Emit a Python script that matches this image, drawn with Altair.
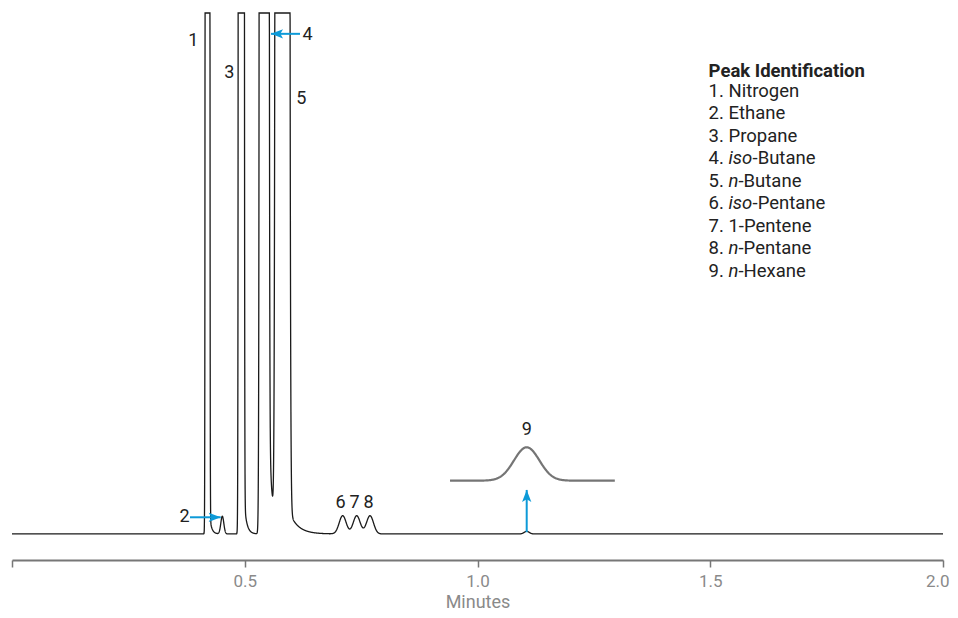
import numpy as np
import pandas as pd
import altair as alt

# ---------------- data ----------------
# peak components: retention time (min), height (detector units, 100 = top of plot), widths (min)
peak_time   = [0.4200, 0.4518, 0.4926, 0.5418, 0.5805, 0.7104, 0.7405, 0.7691, 1.1057]
peak_height = [1e5,    3.4,    1e5,    1e5,    1e5,    3.5,    3.5,    3.5,    0.5]
sigma_left  = [0.00144, 0.00322, 0.00183, 0.00296, 0.00430, 0.00752, 0.00752, 0.00752, 0.0054]
sigma_right = [0.00144, 0.00322, 0.00183, 0.00296, 0.00453, 0.00752, 0.00752, 0.00752, 0.0054]
# exponential tailing after each peak (amplitude, decay in min)
tail_height = [9.9,    0.0,    19.6,   104.0,  9.6,    0.0,    0.0,    0.0,    0.0]
tail_tau    = [0.0043, 0.001,  0.00537, 0.00644, 0.0185, 0.001, 0.001,  0.001,  0.001]
clip_level = 100.0

# magnified inset of peak 9
inset_start, inset_end = 0.941, 1.2954
inset_center, inset_base, inset_height, inset_sigma = 1.1057, 10.23, 6.41, 0.0273

# peak number labels
label_text  = ["1", "2", "3", "4", "5", "6", "7", "8", "9"]
label_time  = [0.3895, 0.3706, 0.4666, 0.6352, 0.6215, 0.7057, 0.7360, 0.7660, 1.1057]
label_value = [94.68, 3.26, 88.44, 95.87, 83.49, 5.85, 5.85, 5.85, 20.0]

# arrows: tail -> tip
arrow_t1 = [0.6187, 0.3824, 1.1057]
arrow_v1 = [96.0, 3.2, 0.33]
arrow_t2 = [0.5564, 0.4483, 1.1057]
arrow_v2 = [96.0, 3.2, 8.45]
arrow_angle = [0, 180, 90]

# peak identification list
legend_title = "Peak Identification"
legend_num = ["1.", "2.", "3.", "4.", "5.", "6.", "7.", "8.", "9."]
legend_ital = ["", "", "", "iso", "n", "iso", "", "n", "n"]
legend_name = ["Nitrogen", "Ethane", "Propane", "-Butane", "-Butane", "-Pentane", "1-Pentene", "-Pentane", "-Hexane"]

x_ticks = [0, 0.5, 1.0, 1.5, 2.0]

# ---------------- build tables ----------------
t = np.round(np.arange(0, 2.00001, 0.0002), 5)
y = np.zeros_like(t)
for t0, a, sl, sr, b, tau in zip(peak_time, peak_height, sigma_left, sigma_right, tail_height, tail_tau):
    s = np.where(t < t0, sl, sr)
    y += a * np.exp(-0.5 * ((t - t0) / s) ** 2)
    y += np.where(t > t0, b * np.exp(-np.clip(t - t0, 0, None) / tau), 0.0)
y = np.minimum(y, clip_level)
trace = pd.DataFrame({"t": t, "v": np.round(y, 3)})

ti = np.round(np.arange(inset_start, inset_end, 0.001), 4)
vi = inset_base + inset_height * np.exp(-0.5 * ((ti - inset_center) / inset_sigma) ** 2)
inset = pd.DataFrame({"t": ti, "v": np.round(vi, 3)})

labels = pd.DataFrame({"text": label_text, "t": label_time, "v": label_value})
arrows = pd.DataFrame({"t1": arrow_t1, "v1": arrow_v1, "t2": arrow_t2, "v2": arrow_v2, "angle": arrow_angle})
legend = pd.DataFrame({"num": legend_num, "ital": legend_ital, "name": legend_name, "row": list(range(len(legend_num)))})

# ---------------- styling / layout ----------------
FONT = "Roboto"
BLUE = "#0d9ad8"
W, H = 931, 547
xs = alt.Scale(domain=[0, 2], nice=False, zero=False)
ys = alt.Scale(domain=[-5, 100], nice=False, zero=False)
leg_x, leg_title_v, leg_top_v, leg_step = 1.4965, 88.9, 85.03, 4.319
fs_leg = 18.5
pw, w_iso, w_n = 1.073 * fs_leg, 1.30 * fs_leg, 0.54 * fs_leg

X = alt.X("t:Q", scale=xs, axis=alt.Axis(
    values=x_ticks, title="Minutes", grid=False,
    labelExpr="datum.value == 0 ? '' : format(datum.value, '.1f')",
    domainColor="#777777", domainWidth=2, tickColor="#777777", tickWidth=1.5, tickSize=7,
    labelColor="#8a8a8a", labelFontSize=17, labelFont=FONT, labelPadding=6,
    labelFlush=True, labelFlushOffset=6,
    titleColor="#8a8a8a", titleFontSize=18, titleFont=FONT, titleFontWeight="normal", titlePadding=4))
Y = alt.Y("v:Q", scale=ys, axis=None)

line = alt.Chart(trace).mark_line(color="#1a1a1a", strokeWidth=1.3).encode(x=X, y=Y)
inset_line = alt.Chart(inset).mark_line(color="#757575", strokeWidth=2.2).encode(x="t:Q", y="v:Q")

lab = alt.Chart(labels).mark_text(font=FONT, fontSize=18, color="#222222", baseline="middle", align="center").encode(
    x="t:Q", y="v:Q", text="text:N")

shafts = alt.Chart(arrows).mark_rule(color=BLUE, strokeWidth=2).encode(x="t1:Q", y="v1:Q", x2="t2:Q", y2="v2:Q")
heads = alt.Chart(arrows).mark_point(
    shape="M0,0 L1.6,-0.62 L1.25,0 L1.6,0.62 Z", filled=True, opacity=1, color=BLUE, size=225, strokeWidth=0
).encode(x="t2:Q", y="v2:Q", angle=alt.Angle("angle:Q", scale=None))

leg_base = alt.Chart(legend).transform_calculate(
    lt=f"{leg_x}", lv=f"{leg_top_v} - {leg_step} * datum.row")
tt = alt.Chart(pd.DataFrame({"text": [legend_title], "t": [leg_x], "v": [leg_title_v]})).mark_text(
    font=FONT, fontSize=fs_leg, fontWeight="bold", color="#222222", align="left", baseline="middle").encode(
    x="t:Q", y="v:Q", text="text:N")
common = dict(font=FONT, fontSize=fs_leg, color="#222222", align="left", baseline="middle")
nums = leg_base.mark_text(**common).encode(x="lt:Q", y="lv:Q", text="num:N")
plain = leg_base.transform_filter("datum.ital == ''").mark_text(dx=pw, **common).encode(x="lt:Q", y="lv:Q", text="name:N")
ital = leg_base.transform_filter("datum.ital != ''").mark_text(dx=pw, fontStyle="italic", **common).encode(x="lt:Q", y="lv:Q", text="ital:N")
suf_iso = leg_base.transform_filter("datum.ital == 'iso'").mark_text(dx=pw + w_iso, **common).encode(x="lt:Q", y="lv:Q", text="name:N")
suf_n = leg_base.transform_filter("datum.ital == 'n'").mark_text(dx=pw + w_n, **common).encode(x="lt:Q", y="lv:Q", text="name:N")

chart = alt.layer(line, inset_line, lab, shafts, heads, tt, nums, plain, ital, suf_iso, suf_n).properties(
    width=W, height=H,
    autosize=alt.AutoSizeParams(type="none"),
    padding={"left": 4, "top": 5, "right": 7, "bottom": 50},
).configure_view(stroke=None)

chart.save("out.html", embed_options={"renderer": "svg", "actions": False})
